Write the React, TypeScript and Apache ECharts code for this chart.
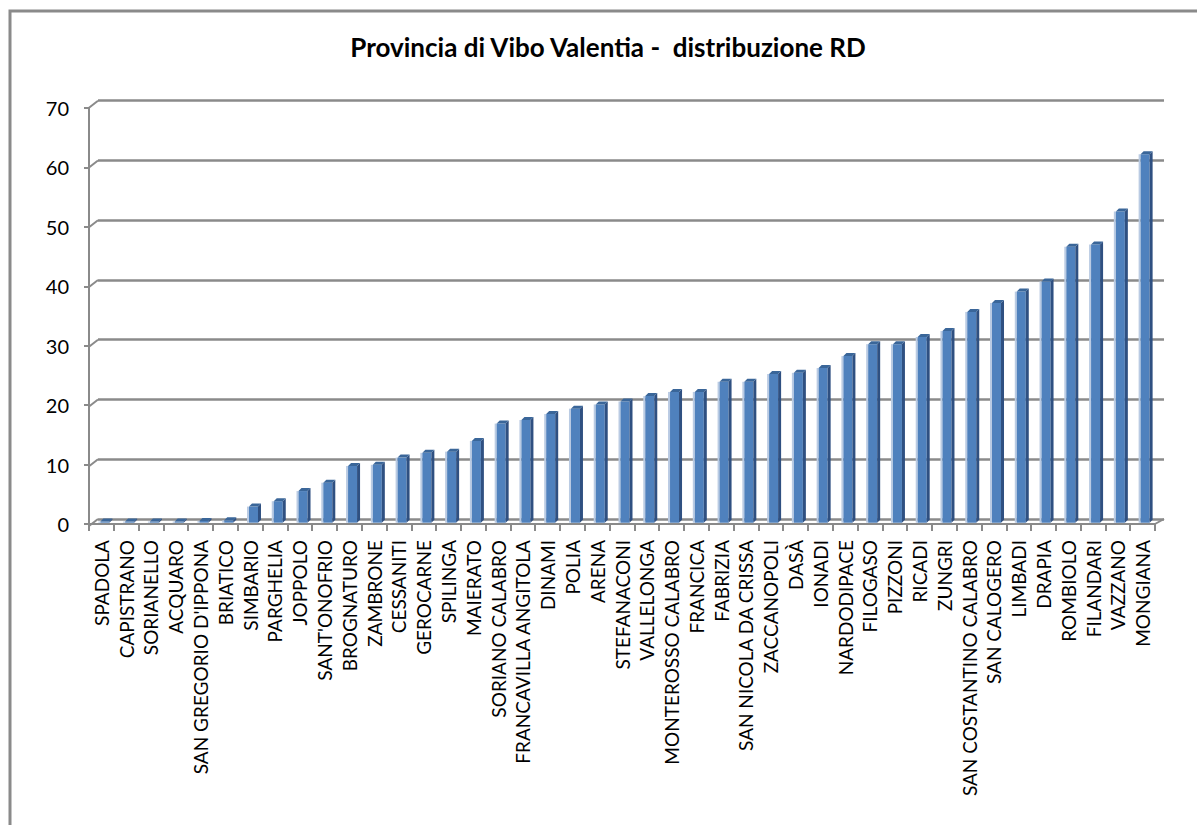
import React, { useEffect, useRef } from "react";
import * as echarts from "echarts";

// Comuni della provincia, ordinati per percentuale di raccolta differenziata
const comuni = [
  "SPADOLA", "CAPISTRANO", "SORIANELLO", "ACQUARO", "SAN GREGORIO D'IPPONA",
  "BRIATICO", "SIMBARIO", "PARGHELIA", "JOPPOLO", "SANT'ONOFRIO",
  "BROGNATURO", "ZAMBRONE", "CESSANITI", "GEROCARNE", "SPILINGA",
  "MAIERATO", "SORIANO CALABRO", "FRANCAVILLA ANGITOLA", "DINAMI", "POLIA",
  "ARENA", "STEFANACONI", "VALLELONGA", "MONTEROSSO CALABRO", "FRANCICA",
  "FABRIZIA", "SAN NICOLA DA CRISSA", "ZACCANOPOLI", "DASÀ", "IONADI",
  "NARDODIPACE", "FILOGASO", "PIZZONI", "RICADI", "ZUNGRI",
  "SAN COSTANTINO CALABRO", "SAN CALOGERO", "LIMBADI", "DRAPIA", "ROMBIOLO",
  "FILANDARI", "VAZZANO", "MONGIANA",
];

const rdPercent = [
  0.2, 0.2, 0.2, 0.2, 0.3,
  0.4, 2.7, 3.6, 5.3, 6.7,
  9.5, 9.7, 10.9, 11.7, 11.9,
  13.7, 16.6, 17.2, 18.2, 19.1,
  19.8, 20.3, 21.2, 21.9, 21.9,
  23.6, 23.6, 24.9, 25.1, 25.9,
  27.9, 29.9, 29.9, 31.1, 32.1,
  35.3, 36.8, 38.7, 40.4, 46.2,
  46.6, 52.1, 61.7,
];

const yTicks = [0, 10, 20, 30, 40, 50, 60, 70];

const TITLE = "Provincia di Vibo Valentia -  distribuzione RD";
const FONT = "Lato, 'Open Sans', sans-serif";
const GRID_GREY = "#8a8a8a";
const FRONT = "#4F81BD";
const SIDE = "#2F5081";
const TOP = "#3A6699";
const HALO = "#BACBE3";

export default function App() {
  const ref = useRef<HTMLDivElement>(null);

  useEffect(() => {
    if (!ref.current) return;
    const chart = echarts.init(ref.current, undefined, { renderer: "svg" });

    const option: any = {
      animation: false,
      backgroundColor: "#ffffff",
      graphic: [
        {
          type: "rect",
          shape: { x: 10, y: 11, width: 1200, height: 830 },
          style: { fill: "none", stroke: GRID_GREY, lineWidth: 3 },
          silent: true,
        },
        {
          type: "text",
          x: 608,
          y: 47,
          style: {
            text: TITLE,
            fontFamily: FONT,
            fontWeight: "bold",
            fontSize: 26,
            fill: "#000",
            textAlign: "center",
            textVerticalAlign: "middle",
          },
        },
      ],
      grid: [
        // columns
        { left: 90, width: 1065, top: 104.7, height: 418 },
        // back wall
        { left: 98, width: 1066, top: 100.7, height: 418.3 },
        // front axes
        { left: 89, width: 1066, top: 108, height: 416 },
      ],
      xAxis: [
        { gridIndex: 0, type: "category", data: comuni, show: false },
        { gridIndex: 1, type: "category", data: comuni, show: false },
        {
          gridIndex: 2,
          type: "category",
          data: comuni,
          axisLine: { show: true, lineStyle: { color: GRID_GREY, width: 2 } },
          axisTick: {
            show: true,
            length: 7,
            alignWithLabel: false,
            lineStyle: { color: GRID_GREY, width: 2 },
          },
          axisLabel: {
            interval: 0,
            rotate: 90,
            margin: 16,
            color: "#000",
            fontSize: 19,
            fontFamily: FONT,
          },
        },
      ],
      yAxis: [
        { gridIndex: 0, type: "value", min: 0, max: 70, interval: 10, show: false },
        {
          gridIndex: 1,
          type: "value",
          min: 0,
          max: 70,
          interval: 10,
          axisLine: { show: false },
          axisTick: { show: false },
          axisLabel: { show: false },
          splitLine: { show: true, lineStyle: { color: GRID_GREY, width: 2.5 } },
        },
        {
          gridIndex: 2,
          type: "value",
          min: 0,
          max: 70,
          interval: 10,
          axisLine: { show: true, lineStyle: { color: GRID_GREY, width: 2 } },
          axisTick: { show: true, length: 5, lineStyle: { color: GRID_GREY, width: 2 } },
          axisLabel: {
            margin: 20,
            color: "#000",
            fontSize: 20,
            fontFamily: FONT,
          },
          splitLine: { show: false },
        },
      ],
      series: [
        {
          // short slanted joints between the front axis and the back wall
          type: "custom",
          xAxisIndex: 1,
          yAxisIndex: 1,
          silent: true,
          data: yTicks.map((v) => [0, v]),
          renderItem: (params: any, api: any) => {
            const v = api.value(1);
            const p = api.coord([0, v]);
            const half = api.size([1, 0])[0] / 2;
            const x = p[0] - half;
            const y = p[1];
            const children: any[] = [
              {
                type: "line",
                shape: { x1: x, y1: y, x2: x - 9, y2: y + 7 },
                style: { stroke: GRID_GREY, lineWidth: 2 },
              },
            ];
            if (v === 0) {
              const last = api.coord([comuni.length - 1, 0]);
              const xr = last[0] + half;
              children.push({
                type: "line",
                shape: { x1: xr, y1: y, x2: xr - 9, y2: y + 5 },
                style: { stroke: GRID_GREY, lineWidth: 2 },
              });
            }
            return { type: "group", children };
          },
          z: 3,
        },
        {
          name: "RD",
          type: "custom",
          xAxisIndex: 0,
          yAxisIndex: 0,
          data: rdPercent.map((v, i) => [i, v]),
          encode: { x: 0, y: 1 },
          renderItem: (params: any, api: any) => {
            const idx = api.value(0);
            const v = api.value(1);
            const top = api.coord([idx, v]);
            const base = api.coord([idx, 0]);
            const cx = top[0];
            const x0 = cx - 2;
            const x1 = cx + 7;
            const d = 3;
            const yT = top[1];
            const yB = base[1];
            return {
              type: "group",
              children: [
                {
                  type: "rect",
                  shape: { x: x0 - 2, y: yT, width: 2, height: yB - yT },
                  style: { fill: HALO },
                },
                {
                  type: "rect",
                  shape: { x: x0, y: yT, width: x1 - x0, height: yB - yT },
                  style: { fill: FRONT },
                },
                {
                  type: "polygon",
                  shape: {
                    points: [
                      [x1, yT],
                      [x1 + d, yT - d],
                      [x1 + d, yB - d],
                      [x1, yB],
                    ],
                  },
                  style: { fill: SIDE },
                },
                {
                  type: "polygon",
                  shape: {
                    points: [
                      [x0, yT],
                      [x0 + d, yT - d],
                      [x1 + d, yT - d],
                      [x1, yT],
                    ],
                  },
                  style: { fill: TOP },
                },
              ],
            };
          },
          z: 5,
        },
      ],
    };

    chart.setOption(option);
    return () => chart.dispose();
  }, []);

  return (
    <div
      ref={ref}
      style={{ position: "absolute", left: 0, top: 0, width: 1197, height: 825 }}
    />
  );
}
